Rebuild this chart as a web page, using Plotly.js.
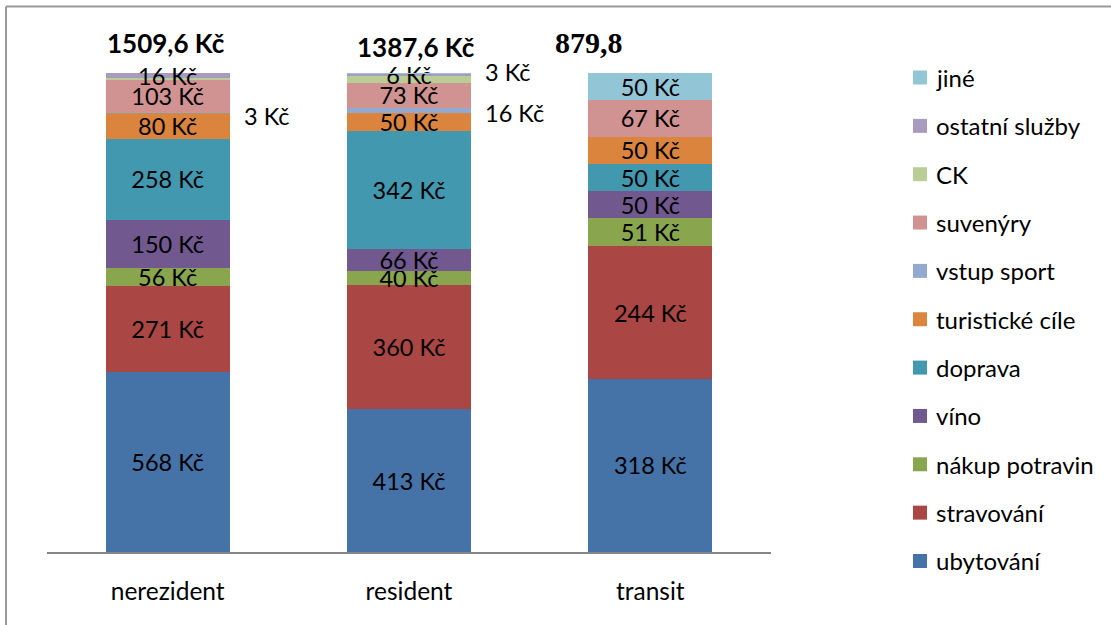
<!DOCTYPE html>
<html><head><meta charset="utf-8">
<script src="https://cdn.plot.ly/plotly-3.0.1.min.js"></script>
<style>html,body{margin:0;padding:0;background:#fff}#chart{width:1111px;height:625px}</style>
</head><body><div id="chart"></div>
<script>
const categories = ['nerezident', 'resident', 'transit'];
const seriesNames = ['ubytování', 'stravování', 'nákup potravin', 'víno', 'doprava', 'turistické cíle', 'vstup sport', 'suvenýry', 'CK', 'ostatní služby', 'jiné'];
const ubytovani     = [568, 413, 318];
const stravovani    = [271, 360, 244];
const nakupPotravin = [56, 40, 51];
const vino          = [150, 66, 50];
const doprava       = [258, 342, 50];
const turistickeCile= [80, 50, 50];
const vstupSport    = [3, 16, 0];
const suvenyry      = [103, 73, 67];
const ck            = [4.6, 18.6, 0];
const ostatniSluzby = [16, 6, 0];
const jine          = [0, 3, 50];
// label placement per series per category: 'in' inside, 'out' beside bar, '' none
const labelIn  = [
  ['in','in','in'], ['in','in','in'], ['in','in','in'], ['in','in','in'], ['in','in','in'],
  ['in','in','in'], ['out','out',''], ['in','in','in'], ['','',''], ['in','in',''], ['','out','in']
];
const totals = [1509.6, 1387.6, 879.8];
const totalLabels = ['1509,6 Kč', '1387,6 Kč', '879,8'];
const colors = ['#4572A7','#AA4643','#89A54E','#71588F','#4198AF','#DB843D','#93A9CF','#D19392','#B9CD96','#A99BBD','#92C5D6'];

const values = [ubytovani, stravovani, nakupPotravin, vino, doprava, turistickeCile, vstupSport, suvenyry, ck, ostatniSluzby, jine];
const FONT = 'Lato, "Open Sans", sans-serif';
const FS = 23.5;

const traces = values.map((v, i) => ({
  type: 'bar', name: seriesNames[i], x: categories, y: v,
  marker: {color: colors[i]},
  text: v.map((val, j) => labelIn[i][j] === 'in' ? Math.round(val) + ' Kč' : ''),
  textposition: 'inside', insidetextanchor: 'middle', constraintext: 'none', cliponaxis: false,
  textfont: {family: FONT, size: FS, color: '#000'},
  hoverinfo: 'none', showlegend: false
}));

const annotations = [];
const shapes = [];
// outside labels
const outShift = [37, 43, 40];
categories.forEach((c, j) => {
  let cum = 0;
  values.forEach((v, i) => {
    const center = cum + v[j] / 2;
    cum += v[j];
    if (labelIn[i][j] === 'out') {
      annotations.push({x: c, y: center / totals[j] * 100, xref: 'x', yref: 'y',
        text: Math.round(v[j]) + ' Kč', showarrow: false, xshift: 62 + outShift[j] + (i === 10 ? -6 : 0),
        yshift: i === 10 ? 2 : -3, yanchor: 'middle',
        font: {family: FONT, size: FS, color: '#000'}});
    }
  });
});
// totals
const totShift = [-2, 7, -61];
categories.forEach((c, j) => {
  annotations.push({x: c, y: 1.059, xref: 'x', yref: 'paper', yanchor: 'middle', text: '<b>' + totalLabels[j] + '</b>',
    showarrow: false, xshift: totShift[j], yshift: j === 1 ? -2 : 2,
    font: {family: j === 2 ? '"Liberation Serif", serif' : FONT, size: j === 2 ? 30 : 26, color: '#000'}});
});

// legend (drawn from seriesNames / colors, top item = last series)
const plotL = 47, plotW = 724, plotB = 552, plotH = 479.5;
const px = x => (x - plotL) / plotW;
const py = y => (plotB - y) / plotH;
seriesNames.forEach((name, i) => {
  const k = seriesNames.length - 1 - i;
  const yc = 77 + k * 48.4;
  shapes.push({type: 'rect', xref: 'paper', yref: 'paper', x0: px(913), x1: px(927), y0: py(yc + 7), y1: py(yc - 7),
    fillcolor: colors[i], line: {width: 0}});
  annotations.push({xref: 'paper', yref: 'paper', x: px(934), y: py(yc), xanchor: 'left', yanchor: 'middle',
    text: name, showarrow: false, font: {family: FONT, size: 24, color: '#000'}});
});

shapes.push(
  {type: 'line', xref: 'paper', yref: 'paper', x0: px(6), x1: px(1120), y0: py(6), y1: py(6), line: {color: '#999', width: 2}},
  {type: 'line', xref: 'paper', yref: 'paper', x0: px(6), x1: px(6), y0: py(6), y1: py(630), line: {color: '#999', width: 2}}
);

const layout = {
  width: 1111, height: 625,
  margin: {l: 47, r: 340, t: 73, b: 73, pad: 0},
  paper_bgcolor: '#fff', plot_bgcolor: '#fff',
  barmode: 'stack', barnorm: 'percent', bargap: 0.485,
  showlegend: false,
  xaxis: {showline: true, linecolor: '#868686', linewidth: 2, ticks: '', showgrid: false,
    tickfont: {family: FONT, size: 24.5, color: '#000'}, ticklabelstandoff: 17},
  yaxis: {visible: false, range: [0, 100], showgrid: false, zeroline: false},
  annotations: annotations,
  shapes: shapes
};
Plotly.newPlot('chart', traces, layout, {staticPlot: true});
</script></body></html>
